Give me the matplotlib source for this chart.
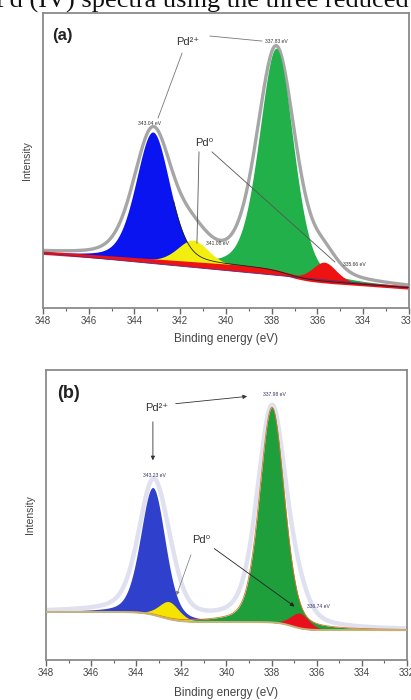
import numpy as np
import matplotlib.pyplot as plt
from matplotlib.ticker import MultipleLocator

plt.rcParams['font.family'] = ['Liberation Sans', 'DejaVu Sans']

# fitted components (binding energy in eV, intensity in a.u.)
a_centers = [343.20, 337.80, 341.45, 335.70]
a_heights = [0.437, 0.758, 0.080, 0.066]
a_fwhm = [1.75, 1.75, 1.60, 1.25]
a_colors = ['#0a14f0', '#22b04a', '#f2ee10', '#ee1212']
a_labels = ['343.04 eV', '337.83 eV', '341.08 eV', '335.66 eV']

b_centers = [343.26, 337.98, 342.55, 336.75]
b_heights = [0.439, 0.742, 0.060, 0.052]
b_fwhm = [1.30, 1.30, 1.05, 0.95]
b_colors = ['#2f40cc', '#1f9e3c', '#f5e400', '#e8101c']
b_labels = ['343.23 eV', '337.98 eV', '342.63 eV', '336.74 eV']

# background (Shirley-like step): right level, linear slope, step heights and positions
a_bg = dict(base=0.068, slope=0.0055, steps=[(0.030, 337.3, 0.45)])
b_bg = dict(base=0.103, slope=0.0, steps=[(0.028, 337.1, 0.30), (0.035, 342.9, 0.40)])

x_ticks = [348, 346, 344, 342, 340, 338, 336, 334, 332]


def pseudo_voigt(e, c, h, fwhm, eta=0.3):
    s = fwhm / 2.3548
    g = np.exp(-(e - c) ** 2 / (2 * s ** 2))
    l = 1 / (1 + ((e - c) / (fwhm / 2)) ** 2)
    return h * ((1 - eta) * g + eta * l)


def background(e, p):
    y = p['base'] + p['slope'] * (e - 332)
    for h, x0, w in p['steps']:
        y = y + h / (1 + np.exp(-(e - x0) / w))
    return y


def style_axis(ax, pad):
    ax.set_xlim(348, 332)
    ax.set_ylim(0, 1)
    ax.set_xticks(x_ticks)
    ax.xaxis.set_minor_locator(MultipleLocator(1))
    ax.set_yticks([])
    for sp in ax.spines.values():
        sp.set_color('#8a8a8a')
        sp.set_linewidth(1.3)
    ax.tick_params(axis='x', which='major', direction='out', length=4, width=1,
                   color='#666666', labelsize=7, labelcolor='#444444', pad=2)
    ax.tick_params(axis='x', which='minor', direction='out', length=2, width=0.8,
                   color='#666666')
    ax.set_xlabel('Binding energy (eV)', fontsize=8.5, color='#444444', labelpad=pad)
    ax.set_ylabel('Intensity', fontsize=7.5, color='#444444', labelpad=8)


e = np.linspace(332, 348, 1200)
fig = plt.figure(figsize=(4.11, 7.0), dpi=100)

# clipped caption line from the source page
fig.text(-0.012, 0.9893, 'Pd (IV) spectra using the three reduced', fontsize=19,
         family=['Liberation Serif', 'DejaVu Serif'], va='baseline', ha='left',
         color='#111111')

# ---------- panel (a) ----------
ax1 = fig.add_axes([0.1046, 0.56, 0.8905, 0.4214])
bg = background(e, a_bg)
lin = np.interp(e, [332, 348], [bg[0], bg[-1]])
env = bg + sum(pseudo_voigt(e, c, h, w * 1.13, eta=0.35)
               for c, h, w in zip(a_centers, a_heights, a_fwhm))
ax1.plot(e, env, color='#a6a6a6', lw=2.4, zorder=1)
comps = [pseudo_voigt(e, c, h, w) for c, h, w in zip(a_centers, a_heights, a_fwhm)]
for comp, col in zip(comps, a_colors):
    ax1.fill_between(e, bg, bg + comp, color=col, lw=0, zorder=2)
# blue component line over the yellow one
mask = e < 342.3
ax1.plot(e[mask], (bg + comps[0])[mask], color='#202020', lw=0.6, zorder=3)
ax1.fill_between(e, lin, bg, where=bg >= lin, color='#ee1212', lw=0, zorder=2)
ax1.fill_between(e, lin, bg, where=bg < lin, color='#1010e0', lw=0, zorder=2)
ax1.plot(e, bg, color='#ee1212', lw=2.4, zorder=2)
ax1.plot(e, lin, color='#5a2a8a', lw=0.6, zorder=2)

style_axis(ax1, 5)
ax1.text(0.025, 0.95, '(a)', transform=ax1.transAxes, fontsize=12,
         fontweight='bold', va='top', ha='left', color='#222222')
ax1.text(341.66, 0.902, 'Pd²⁺', fontsize=8, ha='center', va='center', color='#333333')
ax1.text(340.96, 0.559, 'Pd⁰', fontsize=8, ha='center', va='center', color='#333333')
line_kw = dict(color='#777777', lw=0.6)
ax1.plot([341.92, 342.97], [0.864, 0.644], **line_kw)
ax1.plot([340.70, 338.43], [0.922, 0.905], **line_kw)
ax1.plot([341.18, 341.27], [0.529, 0.220], color='#555555', lw=0.6)
ax1.plot([340.61, 335.24], [0.529, 0.156], color='#555555', lw=0.6)
for (x, y), lab in zip([(343.32, 0.627), (337.81, 0.902), (340.35, 0.217),
                        (334.40, 0.149)], a_labels):
    ax1.text(x, y, lab, fontsize=3.6, ha='center', va='center', color='#333333')

# ---------- panel (b) ----------
ax2 = fig.add_axes([0.1119, 0.0571, 0.878, 0.4143])
bg = background(e, b_bg)
env = bg + sum(pseudo_voigt(e, c, h, w * 1.18, eta=0.4)
               for c, h, w in zip(b_centers, b_heights, b_fwhm))
ax2.plot(e, env, color='#e0e1f0', lw=3.2, zorder=1)
comps = [pseudo_voigt(e, c, h, w) for c, h, w in zip(b_centers, b_heights, b_fwhm)]
for comp, col in zip(comps, b_colors):
    ax2.fill_between(e, bg, bg + comp, color=col, lw=0, zorder=2)
ax2.plot(e, bg + comps[1], color='#e87020', lw=0.6, zorder=3)
ax2.plot(e, bg, color='#c4b47a', lw=1.4, zorder=3)

style_axis(ax2, 6)
ax2.text(0.03, 0.95, '(b)', transform=ax2.transAxes, fontsize=13,
         fontweight='bold', va='top', ha='left', color='#222222')
ax2.text(343.08, 0.869, 'Pd²⁺', fontsize=8, ha='center', va='center', color='#333333')
ax2.text(341.13, 0.414, 'Pd⁰', fontsize=8, ha='center', va='center', color='#333333')
arr = dict(arrowstyle='-|>', color='#333333', lw=0.6, mutation_scale=6)
ax2.annotate('', xy=(338.96, 0.910), xytext=(342.37, 0.883), arrowprops=arr)
ax2.annotate('', xy=(343.26, 0.679), xytext=(343.26, 0.831), arrowprops=arr)
ax2.annotate('', xy=(342.25, 0.215), xytext=(341.53, 0.372),
             arrowprops=dict(arrowstyle='-|>', color='#777777', lw=0.5, mutation_scale=5))
ax2.annotate('', xy=(336.88, 0.179), xytext=(340.64, 0.390),
             arrowprops=dict(arrowstyle='-|>', color='#222222', lw=0.6, mutation_scale=6))
for (x, y), lab in zip([(343.17, 0.638), (337.89, 0.914), (335.90, 0.183)],
                       [b_labels[0], b_labels[1], b_labels[3]]):
    ax2.text(x, y, lab, fontsize=3.6, ha='center', va='center', color='#333366')

fig.savefig('out.png', dpi=100)
